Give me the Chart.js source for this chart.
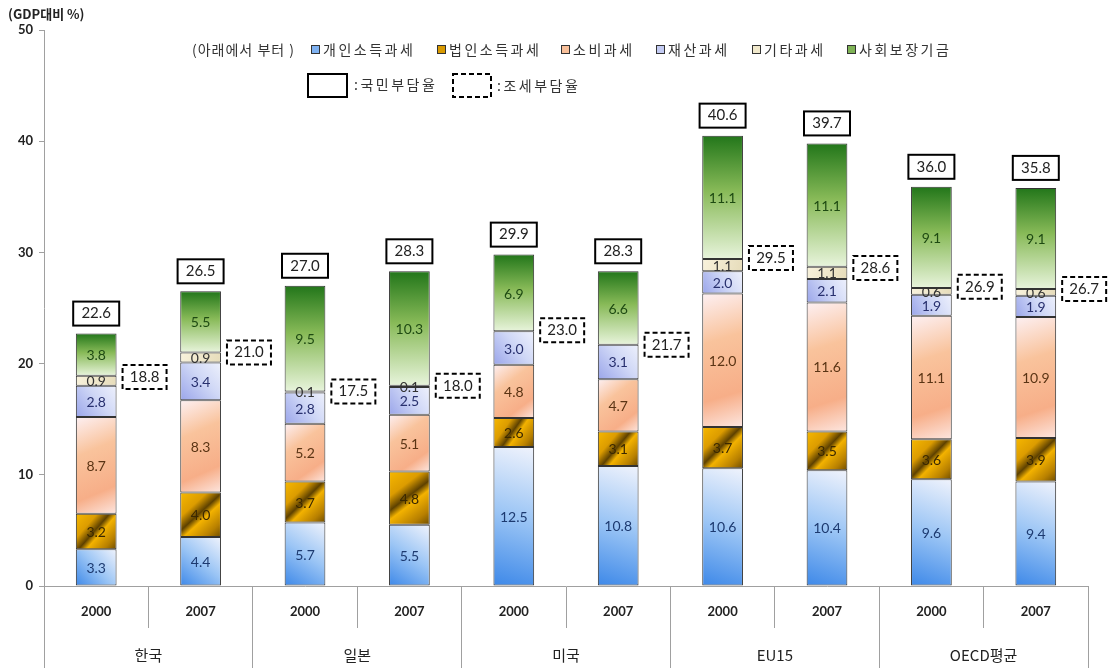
<!DOCTYPE html>
<html>
<head>
<meta charset="utf-8">
<script src="https://cdn.jsdelivr.net/npm/chart.js@4"></script>
<style>
  body { margin: 0; background: #fff; }
  #wrap { width: 1112px; height: 668px; }
</style>
</head>
<body>
<div id="wrap"><canvas id="myChart" width="1112" height="668"></canvas></div>
<script>
// 연도 / 국가
const years = ["2000", "2007", "2000", "2007", "2000", "2007", "2000", "2007", "2000", "2007"];
const countries = ["한국", "일본", "미국", "EU15", "OECD평균"];

// 세목별 (GDP 대비 %), 아래에서 부터
const personalIncome = [3.3, 4.4, 5.7, 5.5, 12.5, 10.8, 10.6, 10.4, 9.6, 9.4];
const corporateIncome = [3.2, 4.0, 3.7, 4.8, 2.6, 3.1, 3.7, 3.5, 3.6, 3.9];
const consumption = [8.7, 8.3, 5.2, 5.1, 4.8, 4.7, 12.0, 11.6, 11.1, 10.9];
const property = [2.8, 3.4, 2.8, 2.5, 3.0, 3.1, 2.0, 2.1, 1.9, 1.9];
const otherTax = [0.9, 0.9, 0.1, 0.1, 0, 0, 1.1, 1.1, 0.6, 0.6];
const socialSecurity = [3.8, 5.5, 9.5, 10.3, 6.9, 6.6, 11.1, 11.1, 9.1, 9.1];

// 국민부담율 / 조세부담율
const totalBurden = [22.6, 26.5, 27.0, 28.3, 29.9, 28.3, 40.6, 39.7, 36.0, 35.8];
const taxBurden = [18.8, 21.0, 17.5, 18.0, 23.0, 21.7, 29.5, 28.6, 26.9, 26.7];

const yTicks = [0, 10, 20, 30, 40, 50];
const seriesNames = ["개인소득과세", "법인소득과세", "소비과세", "재산과세", "기타과세", "사회보장기금"];
const series = [personalIncome, corporateIncome, consumption, property, otherTax, socialSecurity];

const barPct = 0.39;
const numFont = "Lato, 'Noto Sans CJK KR', sans-serif";
const krFont = "'Noto Sans CJK KR', sans-serif";

// 세그먼트 영역 계산 (스케일 기준)
const segRect = (chart, di, j) => {
    const xs = chart.scales.x, ys = chart.scales.y;
    const x = xs.getPixelForValue(j);
    const w = (xs.width / years.length) * barPct;
    let below = 0;
    for (let k = 0; k < di; k++) below += series[k][j];
    return {
        l: x - w / 2, r: x + w / 2,
        b: ys.getPixelForValue(below),
        t: ys.getPixelForValue(below + series[di][j])
    };
};

const gradientDefs = [
    { solid: "#7fb2f2", dir: "blup", stops: [[0, "#3d88e8"], [0.5, "#9bc5f5"], [1, "#f0f3fc"]] },
    { solid: "#d99a00", dir: "down", stops: [[0, "#f7b800"], [0.3, "#dc9c00"], [0.47, "#5e4100"], [0.58, "#f3b200"], [0.82, "#b88000"], [1, "#6e4c00"]] },
    { solid: "#f9c09a", dir: "down", stops: [[0, "#fdf0f3"], [0.35, "#f9c39c"], [0.75, "#f7ae88"], [1, "#fde6e0"]] },
    { solid: "#c3cbf3", dir: "blup", stops: [[0, "#9aa5ea"], [0.55, "#cfd7f6"], [1, "#eef1fc"]] },
    { solid: "#f1e9cc", dir: "down", stops: [[0, "#f8f2dc"], [1, "#e6dcba"]] },
    { solid: "#7fb356", dir: "vert", stops: [[0, "#22761a"], [0.45, "#88ba58"], [1, "#e8f4dc"]] }
];

const makeFill = (di) => (ctx) => {
    const def = gradientDefs[di];
    const chart = ctx.chart;
    if (!chart.chartArea || ctx.dataIndex === undefined) return def.solid;
    const r = segRect(chart, di, ctx.dataIndex);
    let g;
    if (def.dir === "blup") g = chart.ctx.createLinearGradient(r.l, r.b, r.r, r.t);
    else if (def.dir === "down") g = chart.ctx.createLinearGradient(r.l, r.t, r.r, r.b);
    else g = chart.ctx.createLinearGradient(0, r.t, 0, r.b);
    def.stops.forEach((s) => g.addColorStop(s[0], s[1]));
    return g;
};

const labelColors = ["#1d3a70", "#3a2800", "#5a3414", "#28306e", "#333333", "#1e4a12"];

// 세그먼트 값 / 부담율 박스 / 범례 / 국가 라벨
const overlayPlugin = {
    id: "overlay",
    afterDatasetsDraw(chart) {
        const c = chart.ctx;
        const ys = chart.scales.y, xs = chart.scales.x;
        c.save();
        c.textAlign = "center";
        c.textBaseline = "middle";
        c.font = "14px " + numFont;
        series.forEach((data, di) => {
            const meta = chart.getDatasetMeta(di);
            meta.data.forEach((el, j) => {
                if (!data[j]) return;
                c.fillStyle = labelColors[di];
                c.fillText(data[j].toFixed(1), el.x, (el.y + el.base) / 2 + 1);
            });
        });
        const w = (xs.width / years.length) * barPct;
        years.forEach((yr, j) => {
            const x = xs.getPixelForValue(j);
            let top = 0;
            series.forEach((s) => (top += s[j]));
            const ty = ys.getPixelForValue(top);
            // 국민부담율
            c.setLineDash([]);
            c.lineWidth = 2;
            c.strokeStyle = "#000";
            c.fillStyle = "#fff";
            c.fillRect(x - 23, ty - 32, 46, 24);
            c.strokeRect(x - 23, ty - 32, 46, 24);
            c.fillStyle = "#222";
            c.font = "15px " + numFont;
            c.fillText(totalBurden[j].toFixed(1), x, ty - 20);
            // 조세부담율
            const dy = ys.getPixelForValue(taxBurden[j]);
            const bx = x + w / 2 + 6;
            c.setLineDash([5, 3]);
            c.fillStyle = "#fff";
            c.fillRect(bx, dy - 12, 44, 24);
            c.strokeRect(bx, dy - 12, 44, 24);
            c.fillStyle = "#222";
            c.fillText(taxBurden[j].toFixed(1), bx + 22, dy);
        });
        c.restore();
    },
    afterDraw(chart) {
        const c = chart.ctx;
        const xs = chart.scales.x;
        const area = chart.chartArea;
        c.save();
        // y축 제목
        c.fillStyle = "#222";
        c.font = "bold 13px " + krFont;
        c.textBaseline = "middle";
        c.textAlign = "left";
        c.fillText("(GDP대비 %)", 8, 14);

        // 범례
        c.font = "14px " + krFont;
        c.fillStyle = "#333";
        c.letterSpacing = "1px";
        c.fillText("(아래에서 부터 )", 192, 50);
        c.letterSpacing = "2.5px";
        const legendX = [311, 437, 561, 656, 752, 847];
        seriesNames.forEach((name, i) => {
            c.fillStyle = gradientDefs[i].solid;
            c.fillRect(legendX[i], 45, 9, 9);
            c.strokeStyle = "#333";
            c.lineWidth = 1;
            c.setLineDash([]);
            c.strokeRect(legendX[i] + 0.5, 45.5, 8, 8);
            c.fillStyle = "#333";
            c.fillText(name, legendX[i] + 12, 50);
        });
        c.lineWidth = 2;
        c.strokeStyle = "#000";
        c.strokeRect(308, 74, 39, 23);
        c.fillText(":국민부담율", 354, 85);
        c.setLineDash([5, 3]);
        c.strokeRect(453, 74, 38, 23);
        c.setLineDash([]);
        c.fillText(":조세부담율", 497, 86);
        c.letterSpacing = "0px";

        // x축 구분선 + 국가 라벨
        c.strokeStyle = "#a0a0a0";
        c.lineWidth = 1;
        const catW = xs.width / years.length;
        for (let g = 0; g <= countries.length; g++) {
            const x = Math.round(xs.left + g * 2 * catW - 0.5) + 0.5;
            c.beginPath();
            c.moveTo(x, area.bottom);
            c.lineTo(x, 668);
            c.stroke();
        }
        c.font = "15px " + krFont;
        c.fillStyle = "#222";
        c.textAlign = "center";
        countries.forEach((name, g) => {
            c.fillText(name, xs.left + (g * 2 + 1) * catW, 655);
        });
        c.restore();
    }
};

const datasets = series.map((data, di) => ({
    label: seriesNames[di],
    data: data,
    backgroundColor: makeFill(di),
    borderColor: "#333",
    borderWidth: 1,
    borderSkipped: false,
    barPercentage: barPct,
    categoryPercentage: 1
}));

const myChart = new Chart(document.querySelector("#myChart"), {
    type: "bar",
    data: { labels: years, datasets: datasets },
    options: {
        responsive: false,
        animation: false,
        layout: { padding: { top: 30, right: 24, left: 0, bottom: 0 } },
        plugins: { legend: { display: false }, tooltip: { enabled: false } },
        scales: {
            x: {
                stacked: true,
                offset: true,
                afterFit: (s) => { s.height = 82; },
                grid: {
                    display: true, drawOnChartArea: false, offset: true,
                    tickLength: 42, color: "#a0a0a0"
                },
                border: { color: "#a0a0a0" },
                ticks: {
                    padding: -24,
                    color: "#222",
                    font: { family: numFont, size: 13, weight: "bold" }
                }
            },
            y: {
                stacked: true,
                min: 0, max: 50,
                afterFit: (s) => { s.width = 44; },
                afterBuildTicks: (s) => { s.ticks = yTicks.map((v) => ({ value: v })); },
                grid: { display: true, drawOnChartArea: false, tickLength: 5, color: "#a0a0a0" },
                border: { color: "#a0a0a0" },
                ticks: {
                    padding: 6,
                    color: "#222",
                    font: { family: numFont, size: 13, weight: "bold" }
                }
            }
        }
    },
    plugins: [overlayPlugin]
});
</script>
</body>
</html>
